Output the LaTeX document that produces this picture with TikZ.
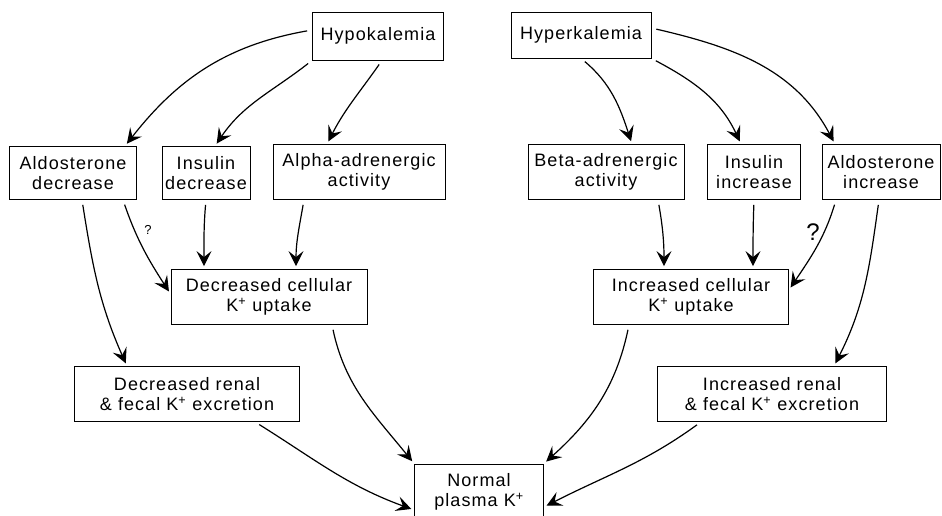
\documentclass[tikz,border=0pt]{standalone}
\usepackage{fontspec}
\setmainfont{Liberation Sans}
\newfontfamily\boxfont[LetterSpace=6.0]{Liberation Sans}
\usetikzlibrary{arrows.meta}
\tikzset{
  kbox/.style={rectangle,draw,line width=0.8pt,inner sep=0pt,align=center,
               minimum width=#1,minimum height=55pt,
               font=\boxfont\fontsize{18}{20}\selectfont},
  tip/.tip={Stealth[length=15pt,width=15pt,inset=6pt]},
  arr/.style={-tip,line width=1.2pt,shorten <=5pt,shorten >=3pt},
  qmark/.style={font=\fontsize{#1}{#1}\selectfont},
}

\begin{document}
\begin{tikzpicture}[x=1pt,y=1pt]
  \useasboundingbox (0,0) rectangle (942,515);
  \clip (0,0) rectangle (942,515);

  \node[kbox=131pt,minimum height=48pt] (hypo)  at (378,479) {Hypokalemia};
  \node[kbox=140pt,minimum height=46pt] (hyper) at (581,480) {Hyperkalemia};

  \node[kbox=127pt,minimum height=53pt] (aldoD) at (73,342)  {Aldosterone\\decrease};
  \node[kbox=88pt,minimum height=53pt]  (insD)  at (206,342) {Insulin\\decrease};
  \node[kbox=172pt] (alpha) at (359,343) {Alpha-adrenergic\\activity};
  \node[kbox=156pt] (beta)  at (606,343) {Beta-adrenergic\\activity};
  \node[kbox=93pt]  (insI)  at (754,343) {Insulin\\increase};
  \node[kbox=118pt] (aldoI) at (881,343) {Aldosterone\\increase};

  \node[kbox=196pt] (decCell) at (269,218) {Decreased cellular\\K\textsuperscript{+} uptake};
  \node[kbox=195pt] (incCell) at (691,218) {Increased cellular\\K\textsuperscript{+} uptake};
  \node[kbox=225pt] (decRen)  at (187,121) {Decreased renal\\\& fecal K\textsuperscript{+} excretion};
  \node[kbox=229pt] (incRen)  at (772,121) {Increased renal\\\& fecal K\textsuperscript{+} excretion};

  \node[kbox=129pt,minimum height=56pt] (norm) at (479,23) {Normal\\plasma K\textsuperscript{+}};

  \node[qmark=13] (qD) at (148,285) {?};
  \node[qmark=24] (qI) at (813,283) {?};

  \draw[arr] ([yshift=6pt]hypo.west) to[out=190,in=52] ([xshift=52pt]aldoD.north);
  \draw[arr] (hypo.south west) to[out=218,in=56] ([xshift=9pt]insD.north);
  \draw[arr] ([xshift=4pt]hypo.south) to[out=235,in=63] ([xshift=-32pt]alpha.north);

  \draw[arr] (hyper.south) to[out=-40,in=108] ([xshift=26pt]beta.north);
  \draw[arr] (hyper.south east) to[out=-28,in=115] ([xshift=-13pt]insI.north);
  \draw[arr] ([yshift=7pt]hyper.east) to[out=-13,in=118] ([xshift=-46pt]aldoI.north);

  \draw[arr] ([xshift=9pt]aldoD.south) to[out=-81,in=114] ([xshift=-60pt]decRen.north);
  \draw[arr] ([xshift=50pt]aldoD.south) to[out=-71,in=123] ([yshift=3pt]decCell.west);
  \draw[arr] (insD.south) to[out=-95,in=90] ([xshift=-65pt]decCell.north);
  \draw[arr] ([xshift=-55pt]alpha.south) to[out=-100,in=90] ([xshift=27pt]decCell.north);

  \draw[arr] ([xshift=52pt]beta.south) to[out=-80,in=90] ([xshift=-27pt]incCell.north);
  \draw[arr] (insI.south) to[out=-92,in=90] ([xshift=62pt]incCell.north);
  \draw[arr] ([xshift=-45pt]aldoI.south) to[out=253,in=56] ([yshift=7pt]incCell.east);
  \draw[arr] ([xshift=-2pt]aldoI.south) to[out=262,in=63] ([xshift=62pt]incRen.north);

  \draw[arr] ([xshift=63pt]decCell.south) to[out=-78,in=129] (norm.north west);
  \draw[arr] ([xshift=68pt]decRen.south) to[out=-32,in=160] ([yshift=-18pt]norm.west);
  \draw[arr] ([xshift=-62pt]incCell.south) to[out=258,in=42] (norm.north east);
  \draw[arr] ([xshift=-71pt]incRen.south) to[out=216,in=27] ([yshift=-15pt]norm.east);
\end{tikzpicture}
\end{document}
